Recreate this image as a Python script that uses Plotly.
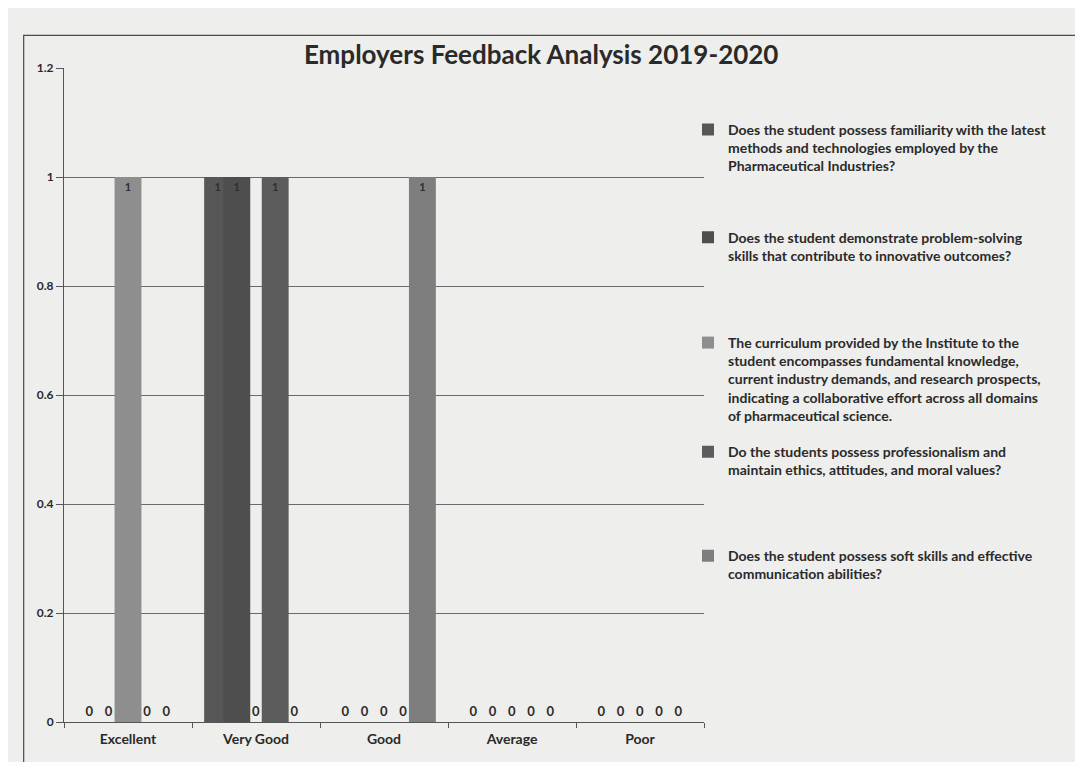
import plotly.graph_objects as go

categories = ["Excellent", "Very Good", "Good", "Average", "Poor"]

series_names = [
    "Does the student possess familiarity with the latest<br>methods and technologies employed by the<br>Pharmaceutical Industries?",
    "Does the student demonstrate problem-solving<br>skills that contribute to innovative outcomes?",
    "The curriculum provided by the Institute to the<br>student encompasses fundamental knowledge,<br>current industry demands, and research prospects,<br>indicating a collaborative effort across all domains<br>of pharmaceutical science.",
    "Do the students possess professionalism and<br>maintain ethics, attitudes, and moral values?",
    "Does the student possess soft skills and effective<br>communication abilities?",
]

s1_values = [0, 1, 0, 0, 0]
s2_values = [0, 1, 0, 0, 0]
s3_values = [1, 0, 0, 0, 0]
s4_values = [0, 1, 0, 0, 0]
s5_values = [0, 0, 1, 0, 0]

y_ticks = [0, 0.2, 0.4, 0.6, 0.8, 1, 1.2]
y_tick_labels = ["0", "0.2", "0.4", "0.6", "0.8", "1", "1.2"]

colors = ["#575757", "#4e4e4e", "#8e8e8e", "#5c5c5c", "#7e7e7e"]

all_values = [s1_values, s2_values, s3_values, s4_values, s5_values]

# vertical position (paper y of the top) of each legend entry
legend_tops = [0.930, 0.765, 0.604, 0.437, 0.278]

FONT = "Lato"
BG = "#eeeeec"

# overlapping clustered bars (Excel-style overlap)
slot = 0.15
bar_w = 0.21

fig = go.Figure()
for i, (name, vals) in enumerate(zip(series_names, all_values)):
    fig.add_trace(go.Bar(
        x=categories,
        y=vals,
        name=name,
        legend="legend" if i == 0 else f"legend{i + 1}",
        showlegend=True,
        width=bar_w,
        offset=(i - 2) * slot - bar_w / 2,
        marker=dict(color=colors[i], line=dict(width=0)),
        text=[str(v) for v in vals],
        textposition=["inside" if v > 0 else "outside" for v in vals],
        insidetextanchor="end",
        textangle=0,
        outsidetextfont=dict(family=FONT, size=13, color="#2a2a2a", weight="bold"),
        insidetextfont=dict(family=FONT, size=11, color="#2e2e2e", weight="bold"),
        cliponaxis=False,
    ))

legend_common = dict(
    x=0.975, xanchor="left", yanchor="top",
    font=dict(family=FONT, size=14, color="#2a2a2a", weight="bold"),
    bgcolor="rgba(0,0,0,0)",
    itemwidth=30,
    valign="top",
    visible=True,
)

layout_legends = {}
for i, top in enumerate(legend_tops):
    key = "legend" if i == 0 else f"legend{i + 1}"
    layout_legends[key] = dict(legend_common, y=top)

fig.update_layout(
    width=1075,
    height=754,
    showlegend=True,
    barmode="overlay",
    paper_bgcolor=BG,
    plot_bgcolor=BG,
    margin=dict(l=56, r=379, t=60, b=40),
    title=dict(
        text="<b>Employers Feedback Analysis 2019-2020</b>",
        x=0.496, xanchor="center", xref="container",
        y=0.938, yanchor="middle", yref="container",
        font=dict(family=FONT, size=26, color="#2a2a2a"),
    ),
    font=dict(family=FONT, color="#2a2a2a"),
    xaxis=dict(
        showline=True, linecolor="#555555", linewidth=1,
        ticks="outside", tickcolor="#555555", ticklen=5,
        tickson="boundaries",
        tickfont=dict(family=FONT, size=14, color="#2a2a2a", weight="bold"),
        ticklabelstandoff=4,
        showgrid=False,
        range=[-0.5, 4.5],
    ),
    yaxis=dict(
        range=[0, 1.2],
        tickvals=y_ticks, ticktext=y_tick_labels,
        showline=True, linecolor="#555555", linewidth=1,
        ticks="outside", tickcolor="#555555", ticklen=7,
        tickfont=dict(family=FONT, size=12, color="#2a2a2a", weight="bold"),
        showgrid=True, gridcolor="#6a6a6a", gridwidth=1,
        zeroline=False,
    ),
    shapes=[dict(
        type="rect", xref="paper", yref="paper",
        x0=-0.063, x1=1.59, y0=-0.1, y1=1.05,
        line=dict(color="#4a4a4a", width=1.2),
        fillcolor="rgba(0,0,0,0)", layer="below",
    )],
    **layout_legends,
)

fig.write_html("out.html")
